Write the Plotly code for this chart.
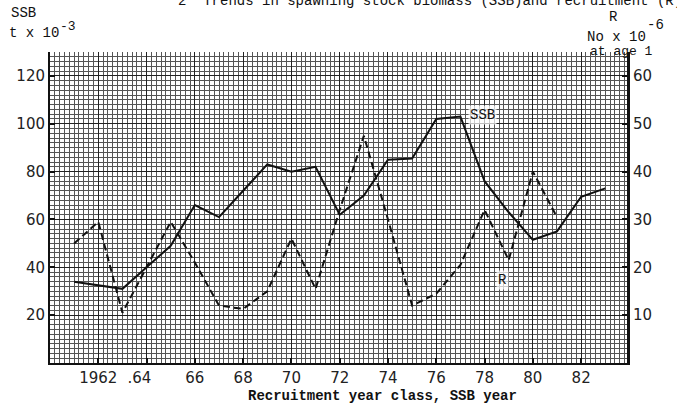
import plotly.graph_objects as go

# ---- data ----
ssb_years = list(range(1961, 1984))
ssb_values = [34, 32.5, 31, 40, 49, 66, 61, 72, 83, 80, 82, 62, 70, 85, 85.5,
              102, 103, 76, 63, 51.5, 55, 69.5, 73]

r_years = list(range(1961, 1982))
r_values = [25, 29.5, 10.5, 20, 29.5, 21, 12, 11.3, 15, 26, 15.5, 32, 47.5, 30,
            12, 14.5, 20.5, 32, 21.5, 40, 30.5]

x_tickvals = [1962, 1964, 1966, 1968, 1970, 1972, 1974, 1976, 1978, 1980, 1982]
x_ticktext = ["1962", ".64\u00a0\u00a0\u00a0", "66", "68", "70", "72", "74", "76", "78", "80", "82"]
ssb_ticks = [20, 40, 60, 80, 100, 120]
r_ticks = [10, 20, 30, 40, 50, 60]

MONO = "Liberation Mono, Courier New, monospace"
SANS = "DejaVu Sans, sans-serif"
INK = "#111111"

fig = go.Figure()
fig.add_trace(go.Scatter(x=ssb_years, y=ssb_values, mode="lines", yaxis="y",
                         line=dict(color=INK, width=2), showlegend=False))
fig.add_trace(go.Scatter(x=r_years, y=r_values, mode="lines", yaxis="y2",
                         line=dict(color=INK, width=2, dash="7px,4px"), showlegend=False))

fig.update_layout(
    width=677, height=407,
    margin=dict(l=50, r=50, t=52, b=44),
    paper_bgcolor="white", plot_bgcolor="white",
    font=dict(family=SANS, size=15, color=INK),
    xaxis=dict(
        range=[1960, 1983.9], tickmode="array", tickvals=x_tickvals, ticktext=x_ticktext,
        ticks="inside", ticklen=5, tickcolor=INK, tickwidth=1.5,
        showgrid=True, gridcolor="#222", gridwidth=1,
        minor=dict(tick0=1960, dtick=0.2, showgrid=True, gridcolor="#555", gridwidth=0.7),
        showline=True, linecolor=INK, linewidth=2, zeroline=False,
        tickfont=dict(family=SANS, size=15, color="#222"),
    ),
    yaxis=dict(
        range=[0, 130], tickmode="array", tickvals=ssb_ticks,
        ticks="inside", ticklen=5, tickcolor=INK, tickwidth=1.5,
        showgrid=True, gridcolor="#222", gridwidth=1,
        minor=dict(tick0=0, dtick=2, showgrid=True, gridcolor="#555", gridwidth=0.7),
        showline=True, linecolor=INK, linewidth=2, zeroline=False,
        tickfont=dict(family=SANS, size=15, color="#222"),
    ),
    yaxis2=dict(
        range=[0, 65], overlaying="y", side="right", tickmode="array", tickvals=r_ticks,
        ticks="inside", ticklen=5, tickcolor=INK, tickwidth=1.5,
        showgrid=False, showline=True, linecolor=INK, linewidth=3, zeroline=False,
        tickfont=dict(family=SANS, size=15, color="#222"),
    ),
)


def px_ann(text, px, py, size=14, anchor="left", bold=False):
    if bold:
        text = "<b>" + text + "</b>"
    return dict(text=text, xref="paper", yref="paper",
                x=(px - 50) / 577, y=(363 - py) / 311,
                xanchor=anchor, yanchor="middle", showarrow=False,
                font=dict(family=MONO, size=size, color=INK))


ann = [
    # clipped title at the very top (cut off in the reference too)
    px_ann("2  Trends in spawning stock biomass (SSB)and recruitment (R)", 176, 1),
    # left axis title
    px_ann("SSB", 9, 13),
    px_ann("t x 10", 7, 33),
    px_ann("-3", 58, 27, size=13),
    # right axis title
    px_ann("R", 607, 17),
    px_ann("No x 10", 585, 37),
    px_ann("-6", 645, 25, size=14),
    px_ann("at age 1", 588, 51, size=13),
    # x axis title
    px_ann("Recruitment year class, SSB year", 382, 396, anchor="center", bold=True),
]
# series labels
ann.append(dict(text="SSB", x=1977.3, y=103.5, xref="x", yref="y", xanchor="left",
                yanchor="middle", showarrow=False, font=dict(family=MONO, size=14, color=INK),
                bgcolor="rgba(255,255,255,0.7)"))
ann.append(dict(text="R", x=1978.75, y=17.3, xref="x", yref="y2", xanchor="center",
                yanchor="middle", showarrow=False, font=dict(family=MONO, size=14, color=INK),
                bgcolor="rgba(255,255,255,0.7)"))
fig.update_layout(annotations=ann)

fig.write_html("out.html", config={"displayModeBar": False},
               post_script="document.body.style.margin='0';document.body.style.overflow='hidden';")
